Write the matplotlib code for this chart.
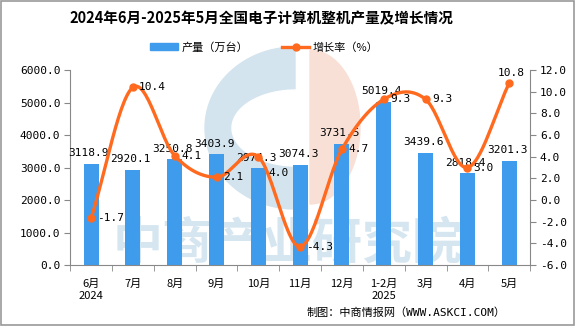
import matplotlib
matplotlib.use('Agg')
import matplotlib.pyplot as plt
import numpy as np
from matplotlib.patches import Polygon, Rectangle, Patch
from matplotlib.lines import Line2D

plt.rcParams['font.family'] = ['Noto Sans CJK SC', 'DejaVu Sans']

# data
months = ['6月\n2024', '7月', '8月', '9月', '10月', '11月', '12月', '1-2月\n2025', '3月', '4月', '5月']
output = [3118.9, 2920.1, 3250.8, 3403.9, 2974.3, 3074.3, 3731.5, 5019.4, 3439.6, 2818.4, 3201.3]
growth = [-1.7, 10.4, 4.1, 2.1, 4.0, -4.3, 4.7, 9.3, 9.3, 3.0, 10.8]

bar_color = '#3F9CEC'
line_color = '#FF6A1F'
num_font = ['DejaVu Sans Mono', 'Noto Sans CJK SC']

fig = plt.figure(figsize=(5.75, 3.26), dpi=100)
fig.patches.append(Rectangle((0.001, 0.002), 0.997, 0.995, transform=fig.transFigure,
                             fill=False, edgecolor='#999999', lw=1.2))

# watermark logo (background, pixel coordinates)
bg = fig.add_axes([0, 0, 1, 1], zorder=0)
bg.set_xlim(0, 575)
bg.set_ylim(326, 0)
bg.axis('off')


def half_ellipse(cx, cy, rx, ry, a0, a1):
    a = np.linspace(np.radians(a0), np.radians(a1), 80)
    pts = np.column_stack([cx + rx * np.cos(a), cy - ry * np.sin(a)])
    return np.vstack([pts, [[cx, cy]]])


bg.add_patch(Polygon(half_ellipse(295, 128, 90, 81, 90, 270), color='#D3E4EF'))
bg.add_patch(Polygon(half_ellipse(296, 128, 64, 38, 90, 270), color='white'))
bg.add_patch(Polygon(half_ellipse(310, 127, 50, 77, -90, 90), color='#F9E0D6'))
bg.text(288, 245, '中商产业研究院', ha='center', va='center', fontsize=36,
        fontweight='bold', color='#D6E6F1')

ax = fig.add_axes([0.122, 0.187, 0.8, 0.598], zorder=1)
ax.patch.set_alpha(0)
x = np.arange(len(months))
ax.bar(x, output, width=0.36, color=bar_color, zorder=2)
ax.set_ylim(0, 6000)
ax.set_xlim(-0.5, len(months) - 0.5)
yt = np.arange(0, 6001, 1000)
ax.set_yticks(yt)
ax.set_yticklabels(['%.1f' % v for v in yt], family=num_font, fontsize=8)
ax.set_xticks(x)
ax.set_xticklabels(months, fontsize=8, linespacing=1.25)
ax.set_xticks(np.arange(-0.5, len(months)), minor=True)
ax.tick_params(axis='x', which='major', length=0, pad=10)
ax.tick_params(axis='x', which='minor', length=4, color='#888888')
ax.tick_params(axis='y', length=4, color='#888888', pad=3)
for s in ['top', 'right']:
    ax.spines[s].set_visible(False)
for s in ['left', 'bottom']:
    ax.spines[s].set_color('#888888')

for xi, v in zip(x, output):
    ax.text(xi - 0.05, v + 180, '%.1f' % v, ha='center', va='bottom', fontsize=8,
            family=num_font, zorder=5)

ax2 = ax.twinx()
ax2.set_ylim(-6, 12)
yt2 = np.arange(-6, 12.1, 2)
ax2.set_yticks(yt2)
ax2.set_yticklabels(['%.1f' % v for v in yt2], family=num_font, fontsize=8)
ax2.tick_params(axis='y', length=4, color='#888888', pad=3)
for s in ['top', 'left', 'bottom']:
    ax2.spines[s].set_visible(False)
ax2.spines['right'].set_color('#888888')

# smooth curve through the points (Catmull-Rom)
g = np.array(growth)
px = np.concatenate([[x[0] - 1], x, [x[-1] + 1]]).astype(float)
py = np.concatenate([[2 * g[0] - g[1]], g, [2 * g[-1] - g[-2]]])
cx, cy = [], []
t = np.linspace(0, 1, 30)
for i in range(1, len(px) - 2):
    p0, p1, p2, p3 = py[i - 1], py[i], py[i + 1], py[i + 2]
    cy.extend(0.5 * (2 * p1 + (-p0 + p2) * t + (2 * p0 - 5 * p1 + 4 * p2 - p3) * t ** 2
                     + (-p0 + 3 * p1 - 3 * p2 + p3) * t ** 3))
    cx.extend(px[i] + t)
ax2.plot(cx, cy, color=line_color, lw=2.4, zorder=3)
ax2.plot(x, growth, 'o', color=line_color, ms=5, zorder=4)
for xi, v in zip(x, growth):
    if xi == len(months) - 1:
        ax2.text(xi + 0.05, v + 0.5, '%.1f' % v, ha='center', va='bottom', fontsize=8, family=num_font)
    elif xi == 4:
        ax2.text(xi + 0.25, v - 1.5, '%.1f' % v, ha='left', va='center', fontsize=8, family=num_font)
    else:
        ax2.text(xi + 0.15, v, '%.1f' % v, ha='left', va='center', fontsize=8, family=num_font)

# legend
handles = [Patch(color=bar_color, label='产量（万台）'),
           Line2D([0], [0], color=line_color, lw=2.4, marker='o', ms=5, label='增长率（%）')]
fig.legend(handles=handles, loc='center', bbox_to_anchor=(0.46, 0.855), ncol=2, frameon=False,
           fontsize=8, handlelength=2.5, columnspacing=3, handleheight=0.6, handletextpad=0.3)

fig.text(0.455, 0.945, '2024年6月-2025年5月全国电子计算机整机产量及增长情况', ha='center', va='center',
         fontsize=10.5, fontweight='bold')
fig.text(0.88, 0.04, '制图：中商情报网（WWW.ASKCI.COM）', ha='right', va='center', fontsize=8,
         family=num_font)

plt.savefig('out.png', dpi=100)
